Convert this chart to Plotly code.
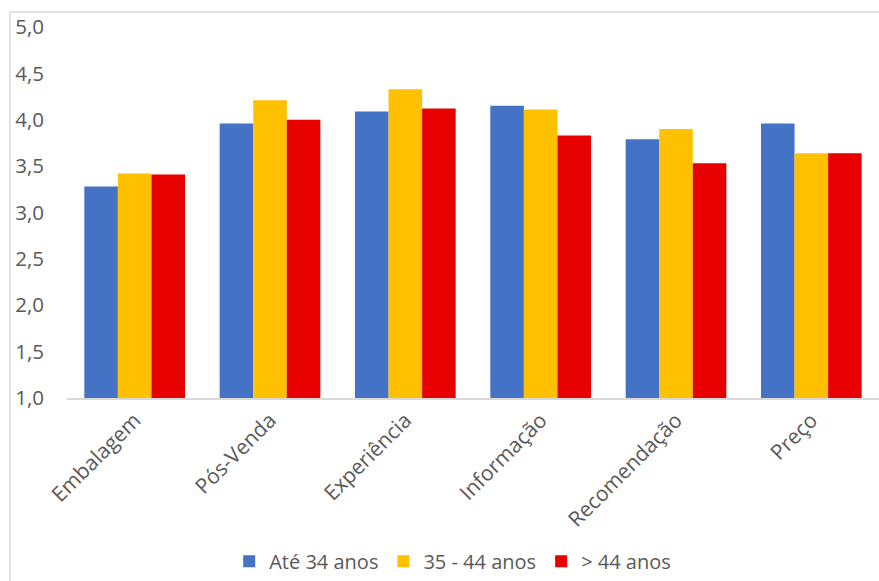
import plotly.graph_objects as go

categories = ["Embalagem", "Pós-Venda", "Experiência", "Informação", "Recomendação", "Preço"]
series_names = ["Até 34 anos", "35 - 44 anos", "> 44 anos"]
ate_34 = [3.28, 3.96, 4.09, 4.15, 3.79, 3.96]
de_35_44 = [3.42, 4.21, 4.33, 4.11, 3.90, 3.64]
mais_44 = [3.41, 4.00, 4.12, 3.83, 3.53, 3.64]
colors = ["#4472C4", "#FFC000", "#E60000"]
y_ticks = [1.0, 1.5, 2.0, 2.5, 3.0, 3.5, 4.0, 4.5, 5.0]
y_tick_labels = ["1,0", "1,5", "2,0", "2,5", "3,0", "3,5", "4,0", "4,5", "5,0"]

FONT = "Open Sans"
TXT = "#595959"
AXIS_MIN = 1.0

fig = go.Figure()
for name, vals, col in zip(series_names, [ate_34, de_35_44, mais_44], colors):
    fig.add_trace(go.Bar(
        x=categories, y=[v - AXIS_MIN for v in vals], base=AXIS_MIN, name=name,
        customdata=vals, hovertemplate="%{x}: %{customdata}<extra>" + name + "</extra>",
        marker=dict(color=col, line=dict(width=0)),
    ))

W, H = 879, 581
ml, mr, mt, mb = 67, 0, 27, 180
fig.update_layout(
    width=W, height=H,
    margin=dict(l=ml, r=mr, t=mt, b=mb, pad=0),
    paper_bgcolor="white", plot_bgcolor="white",
    barmode="group", bargap=0.256, bargroupgap=0,
    font=dict(family=FONT, size=20, color=TXT),
    showlegend=True,
    legend=dict(
        orientation="h", x=0.475, xanchor="center", y=-0.44, yanchor="middle",
        font=dict(family=FONT, size=20, color=TXT),
        itemwidth=30, tracegroupgap=0, traceorder="normal",
        itemsizing="constant",
    ),
    xaxis=dict(
        showline=True, linecolor="#D9D9D9", linewidth=1.5,
        showgrid=False, ticks="", tickangle=-45,
        tickfont=dict(family=FONT, size=21, color=TXT),
        fixedrange=True,
    ),
    yaxis=dict(
        range=[1.0, 5.0], tickmode="array", tickvals=y_ticks, ticktext=y_tick_labels,
        showgrid=False, showline=False, zeroline=False, ticks="",
        tickfont=dict(family=FONT, size=20.5, color=TXT),
        ticklabelstandoff=22,
    ),
)

# chart-area border (light grey frame)
plot_h = H - mt - mb
plot_w = W - ml - mr
def px_x(px):
    return (px - ml) / plot_w
def px_y(py):
    return (H - mb - py) / plot_h
fig.add_shape(type="rect", xref="paper", yref="paper",
              x0=px_x(10), x1=px_x(W + 20), y0=px_y(H + 20), y1=px_y(12),
              line=dict(color="#D9D9D9", width=1.5), fillcolor="rgba(0,0,0,0)", layer="below")

fig.write_html("out.html")
